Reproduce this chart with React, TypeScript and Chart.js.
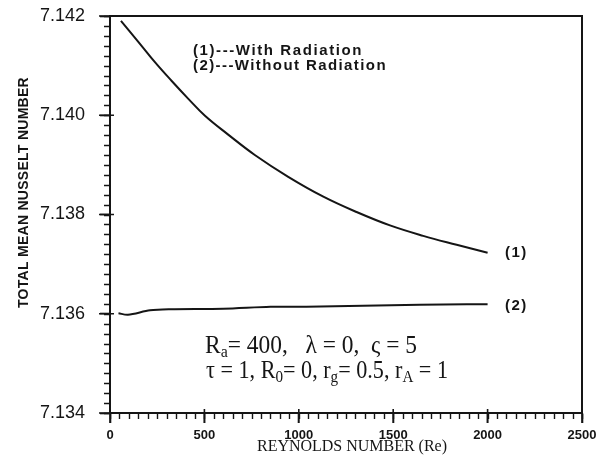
import React, { useEffect, useRef } from 'react';
import { Chart, registerables } from 'chart.js';

Chart.register(...registerables);

// ---- data ----
const reynolds1 = [58, 150, 238, 327, 415, 503, 626, 767, 944, 1130, 1306, 1483, 1659, 1836, 2000];
const nusselt1 = [7.1419, 7.14148, 7.14107, 7.14069, 7.14033, 7.13999, 7.13961, 7.1392, 7.13876, 7.13836, 7.13805, 7.13778, 7.13757, 7.13739, 7.13723];
const reynolds2 = [45, 95, 212, 318, 600, 850, 1040, 1340, 1640, 1890, 2000];
const nusselt2 = [7.13601, 7.13598, 7.13607, 7.13609, 7.1361, 7.13614, 7.13614, 7.13616, 7.13618, 7.13619, 7.13619];

const xTickLabels = ['0', '500', '1000', '1500', '2000', '2500'];
const yTickLabels = ['7.134', '7.136', '7.138', '7.140', '7.142'];
const xMinorStep = 50;
const yMinorStep = 0.0002;
const legendLines = ['(1)---With Radiation', '(2)---Without Radiation'];
const seriesTags = ['(1)', '(2)'];
const xTitle = 'REYNOLDS NUMBER (Re)';
const yTitle = 'TOTAL MEAN NUSSELT NUMBER';
const paramLine1: [string, boolean][] = [['R', false], ['a', true], ['= 400,   λ = 0,  ς = 5', false]];
const paramLine2: [string, boolean][] = [['τ = 1, R', false], ['0', true], ['= 0, r', false], ['g', true], ['= 0.5, r', false], ['A', true], [' = 1', false]];

const INK = '#151515';

function fitText(ctx: CanvasRenderingContext2D, text: string, x: number, y: number, width: number, font: string) {
  ctx.save();
  ctx.font = font;
  (ctx as any).letterSpacing = '0px';
  const w = ctx.measureText(text).width;
  const ls = (width - w) / text.length;
  (ctx as any).letterSpacing = ls + 'px';
  ctx.textAlign = 'left';
  ctx.textBaseline = 'middle';
  ctx.fillStyle = INK;
  ctx.fillText(text, x, y);
  ctx.restore();
}

function richText(ctx: CanvasRenderingContext2D, parts: [string, boolean][], x: number, y: number, width: number) {
  ctx.save();
  ctx.fillStyle = INK;
  ctx.textBaseline = 'alphabetic';
  ctx.textAlign = 'left';
  const big = '22px "Liberation Serif"';
  const small = '15px "Liberation Serif"';
  let total = 0;
  for (const [t, sub] of parts) {
    ctx.font = sub ? small : big;
    total += ctx.measureText(t).width;
  }
  const sx = width / total;
  ctx.translate(x, y);
  ctx.scale(sx, 1.12);
  let cx = 0;
  for (const [t, sub] of parts) {
    ctx.font = sub ? small : big;
    ctx.fillText(t, cx, sub ? 4 : 0);
    cx += ctx.measureText(t).width;
  }
  ctx.restore();
}

const decorPlugin = {
  id: 'decor',
  afterDraw(chart: any) {
    const { ctx, chartArea: a, scales } = chart;
    const xs = scales.x;
    const ys = scales.y;
    ctx.save();
    ctx.strokeStyle = INK;
    ctx.lineWidth = 2;
    ctx.strokeRect(a.left, a.top, a.right - a.left, a.bottom - a.top);

    // minor ticks
    ctx.lineWidth = 1.4;
    ctx.beginPath();
    const yMin = ys.min, yMax = ys.max;
    const ny = Math.round((yMax - yMin) / yMinorStep);
    for (let k = 0; k <= ny; k++) {
      const py = Math.round(ys.getPixelForValue(yMin + k * yMinorStep)) + 0.5;
      ctx.moveTo(a.left - 6, py);
      ctx.lineTo(a.left, py);
    }
    const nx = Math.round((xs.max - xs.min) / xMinorStep);
    for (let k = 0; k <= nx; k++) {
      const px = Math.round(xs.getPixelForValue(xs.min + k * xMinorStep)) + 0.5;
      ctx.moveTo(px, a.bottom);
      ctx.lineTo(px, a.bottom + 6);
    }
    ctx.stroke();

    // major ticks crossing the axis
    ctx.lineWidth = 1.6;
    ctx.beginPath();
    for (const l of yTickLabels) {
      const py = ys.getPixelForValue(parseFloat(l));
      ctx.moveTo(a.left - 11, py);
      ctx.lineTo(a.left + 4, py);
    }
    for (const l of xTickLabels) {
      const px = xs.getPixelForValue(parseFloat(l));
      ctx.moveTo(px, a.bottom - 4);
      ctx.lineTo(px, a.bottom + 10);
    }
    ctx.stroke();
    ctx.restore();

    // axis titles
    ctx.save();
    ctx.translate(24, 193);
    ctx.rotate(-Math.PI / 2);
    fitText(ctx, yTitle, -115, 0, 231, 'bold 14px "Liberation Sans"');
    ctx.restore();
    fitText(ctx, xTitle, 257, 447, 190, '16px "Liberation Serif"');

    // legend text
    fitText(ctx, legendLines[0], 193, 51, 170, 'bold 15px "Liberation Sans"');
    fitText(ctx, legendLines[1], 193, 66, 194, 'bold 15px "Liberation Sans"');

    // series tags at curve ends
    const ends = [nusselt1[nusselt1.length - 1], nusselt2[nusselt2.length - 1]];
    seriesTags.forEach((t, i) => {
      const px = xs.getPixelForValue(2150);
      const py = ys.getPixelForValue(ends[i]) + (i === 1 ? 2 : 0);
      fitText(ctx, t, px - 11, py, 23, 'bold 15px "Liberation Sans"');
    });

    // parameter text
    richText(ctx, paramLine1, 205, 353, 212);
    richText(ctx, paramLine2, 206, 378, 242);
  },
};

export default function App() {
  const ref = useRef<HTMLCanvasElement>(null);
  useEffect(() => {
    if (!ref.current) return;
    const chart = new Chart(ref.current, {
      type: 'line',
      data: {
        datasets: [
          {
            label: 'With Radiation',
            data: reynolds1.map((x, i) => ({ x, y: nusselt1[i] })),
            borderColor: INK,
            borderWidth: 2,
            pointRadius: 0,
            tension: 0.4,
            fill: false,
          },
          {
            label: 'Without Radiation',
            data: reynolds2.map((x, i) => ({ x, y: nusselt2[i] })),
            borderColor: INK,
            borderWidth: 2,
            pointRadius: 0,
            tension: 0.3,
            fill: false,
          },
        ],
      },
      options: {
        animation: false,
        responsive: false,
        devicePixelRatio: 1,
        layout: { padding: { top: 16, right: 22, bottom: 0, left: 0 } },
        plugins: { legend: { display: false }, tooltip: { enabled: false }, title: { display: false } },
        scales: {
          x: {
            type: 'linear',
            min: 0,
            max: 2500,
            afterFit: (s: any) => { s.height = 50; s.paddingLeft = 0; s.paddingRight = 0; },
            grid: { drawOnChartArea: false, drawTicks: true, tickLength: 10, tickColor: INK, tickWidth: 1.6 },
            border: { display: true, color: INK, width: 2 },
            ticks: {
              stepSize: 500,
              autoSkip: false,
              maxRotation: 0,
              padding: 5,
              color: INK,
              font: { family: 'Liberation Sans', size: 13, weight: 'bold' },
              callback: (v: any) => (xTickLabels.includes(String(v)) ? String(v) : ''),
            },
          },
          y: {
            type: 'linear',
            min: 7.134,
            max: 7.142,
            afterFit: (s: any) => { s.width = 110; s.paddingTop = 0; s.paddingBottom = 0; },
            grid: { drawOnChartArea: false, drawTicks: true, tickLength: 10, tickColor: INK, tickWidth: 1.6 },
            border: { display: true, color: INK, width: 2 },
            ticks: {
              stepSize: 0.002,
              autoSkip: false,
              padding: 15,
              color: INK,
              font: { family: 'Liberation Sans', size: 18 },
              callback: (v: any) => {
                const l = yTickLabels.find((t) => Math.abs(parseFloat(t) - v) < 1e-7);
                return l ?? '';
              },
            },
          },
        },
      },
      plugins: [decorPlugin],
    } as any);
    return () => chart.destroy();
  }, []);
  return (
    <div style={{ position: 'fixed', left: 0, top: 0, width: 604, height: 463, background: '#fff' }}>
      <canvas ref={ref} width={604} height={463} />
    </div>
  );
}
